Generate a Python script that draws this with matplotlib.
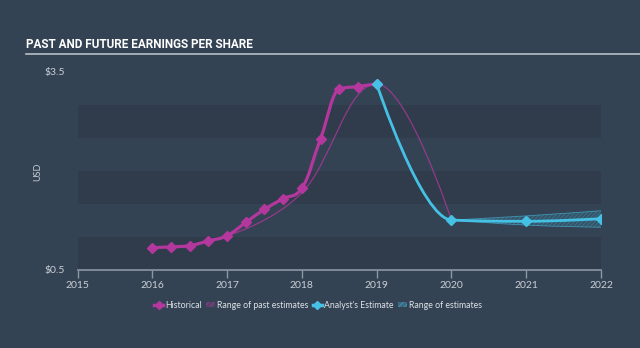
import numpy as np
import matplotlib.pyplot as plt
from matplotlib.path import Path
from matplotlib.patches import PathPatch, Patch
from matplotlib.lines import Line2D

plt.rcParams['font.family'] = ['Lato', 'DejaVu Sans']
plt.rcParams['hatch.linewidth'] = 0.5

# earnings per share, history (quarterly) and analyst estimates (yearly)
hist_x = [2016.0, 2016.25, 2016.5, 2016.75, 2017.0, 2017.25, 2017.5, 2017.75,
          2018.0, 2018.25, 2018.5, 2018.75, 2019.0]
hist_eps = [0.84, 0.85, 0.87, 0.94, 1.02, 1.22, 1.42, 1.58, 1.74, 2.49, 3.24, 3.28, 3.32]

past_est_x = [2017.0, 2018.0, 2019.0, 2020.0]
past_est_eps = [1.02, 1.67, 3.32, 1.257]

fc_x = [2019.0, 2020.0, 2021.0, 2022.0]
fc_eps = [3.32, 1.257, 1.238, 1.277]
fc_low = [1.257, 1.18, 1.147]
fc_high = [1.257, 1.32, 1.398]
fc_range_x = [2020.0, 2021.0, 2022.0]

year_ticks = list(range(2015, 2023))

BG = '#344354'
BAND = '#303c4b'
MAG = '#b3379d'
CYAN = '#46c1e6'
TXT = '#c9ced5'
AXIS = '#8c97a4'


def spline_path(xs, ys, smoothing=1.5):
    # cubic bezier spline, control points limited so peaks stay flat
    n = len(xs)
    left = [None] * n
    right = [None] * n
    for i in range(1, n - 1):
        x, y = xs[i], ys[i]
        lx, ly = xs[i - 1], ys[i - 1]
        nx, ny = xs[i + 1], ys[i + 1]
        d = smoothing + 1
        lcx, lcy = (smoothing * x + lx) / d, (smoothing * y + ly) / d
        rcx, rcy = (smoothing * x + nx) / d, (smoothing * y + ny) / d
        corr = (rcy - lcy) * (rcx - x) / (rcx - lcx) + y - rcy
        lcy += corr
        rcy += corr
        if lcy > max(ly, y):
            lcy = max(ly, y); rcy = 2 * y - lcy
        elif lcy < min(ly, y):
            lcy = min(ly, y); rcy = 2 * y - lcy
        if rcy > max(ny, y):
            rcy = max(ny, y); lcy = 2 * y - rcy
        elif rcy < min(ny, y):
            rcy = min(ny, y); lcy = 2 * y - rcy
        left[i] = (lcx, lcy)
        right[i] = (rcx, rcy)
    verts = [(xs[0], ys[0])]
    codes = [Path.MOVETO]
    for i in range(1, n):
        c1 = right[i - 1] or (xs[i - 1], ys[i - 1])
        c2 = left[i] or (xs[i], ys[i])
        verts += [c1, c2, (xs[i], ys[i])]
        codes += [Path.CURVE4] * 3
    return verts, codes


fig = plt.figure(figsize=(6.4, 3.48), dpi=100)
fig.patch.set_facecolor(BG)
ax = fig.add_axes([77.5 / 640, 1 - 270 / 348, (601 - 77.5) / 640, 198 / 348])
ax.set_facecolor('none')
ax.set_xlim(2015, 2022)
ax.set_ylim(0.5, 3.5)

# alternating horizontal bands
for lo in (0.5, 1.5, 2.5):
    ax.axhspan(lo, lo + 0.5, color=BAND, lw=0, zorder=0)

# range of estimates (hatched band with light edges)
uv, uc = spline_path(fc_range_x, fc_high)
lv, lc = spline_path(fc_range_x, fc_low)
band_verts = uv + [lv[-1]] + lv[::-1][1:] + [uv[0]]
band_codes = uc + [Path.LINETO] + [Path.CURVE4] * (len(lv) - 1) + [Path.CLOSEPOLY]
ax.add_patch(PathPatch(Path(band_verts, band_codes), facecolor=(0.27, 0.75, 0.9, 0.14),
                       edgecolor=(0.27, 0.75, 0.9, 0.35), hatch='////////', lw=0, zorder=2))
ax.add_patch(PathPatch(Path(uv, uc), fill=False, edgecolor=CYAN, lw=0.6, alpha=0.6, zorder=2))
ax.add_patch(PathPatch(Path(lv, lc), fill=False, edgecolor=CYAN, lw=0.6, alpha=0.6, zorder=2))

# range of past estimates
v, c = spline_path(past_est_x, past_est_eps)
ax.add_patch(PathPatch(Path(v, c), fill=False, edgecolor=MAG, lw=0.9, alpha=0.75, zorder=3))

# historical
v, c = spline_path(hist_x, hist_eps)
ax.add_patch(PathPatch(Path(v, c), fill=False, edgecolor=MAG, lw=2.3, zorder=4,
                       capstyle='round', joinstyle='round'))
ax.plot(hist_x, hist_eps, 'D', color=MAG, ms=5, zorder=5)

# analyst estimate
v, c = spline_path(fc_x, fc_eps)
ax.add_patch(PathPatch(Path(v, c), fill=False, edgecolor=CYAN, lw=2.0, zorder=6,
                       capstyle='round', joinstyle='round'))
ax.plot(fc_x, fc_eps, 'D', color=CYAN, ms=5, zorder=7)

# axes styling
for s in ('top', 'right', 'left'):
    ax.spines[s].set_visible(False)
ax.spines['bottom'].set_color(AXIS)
ax.spines['bottom'].set_linewidth(1.2)
ax.set_xticks(year_ticks)
ax.set_xticklabels([str(y) for y in year_ticks])
ax.tick_params(axis='x', colors=AXIS, length=6, width=1, direction='out', pad=2,
               labelsize=7.5, labelcolor=TXT)
ax.set_yticks([0.5, 3.5])
ax.set_yticklabels(['\\$0.5', '\\$3.5'])
ax.tick_params(axis='y', length=0, pad=9, labelsize=7.5, labelcolor=TXT)
fig.text(38 / 640, 1 - 172 / 348, 'USD', rotation=90, color=TXT, fontsize=6.5,
         ha='center', va='center')

# title with rule underneath
fig.text(26 / 640, 1 - 45 / 348, 'PAST AND FUTURE EARNINGS PER SHARE', color='white',
         fontsize=8.5, fontweight='bold', family=['Roboto', 'DejaVu Sans'],
         ha='left', va='center')
fig.add_artist(Line2D([26 / 640, 1.0], [1 - 54 / 348] * 2, color='#b8bec6', lw=1.2))

handles = [
    Line2D([], [], color=MAG, lw=2.5, marker='D', ms=4.5),
    Patch(facecolor=(0.7, 0.22, 0.62, 0.3), edgecolor=(0.7, 0.22, 0.62, 0.7), hatch='//////', lw=0),
    Line2D([], [], color=CYAN, lw=2.5, marker='D', ms=4.5),
    Patch(facecolor=(0.27, 0.75, 0.9, 0.3), edgecolor=(0.27, 0.75, 0.9, 0.7), hatch='//////', lw=0),
]
labels = ['Historical', 'Range of past estimates', "Analyst's Estimate", 'Range of estimates']
leg = fig.legend(handles, labels, loc='center', bbox_to_anchor=(0.497, 1 - 305 / 348), ncol=4,
                 frameon=False, fontsize=6.3, handlelength=1.0, handletextpad=0.25,
                 columnspacing=0.5, handleheight=0.6)
for t in leg.get_texts():
    t.set_color('#dde1e6')

fig.savefig('out.png', dpi=100, facecolor=BG)
